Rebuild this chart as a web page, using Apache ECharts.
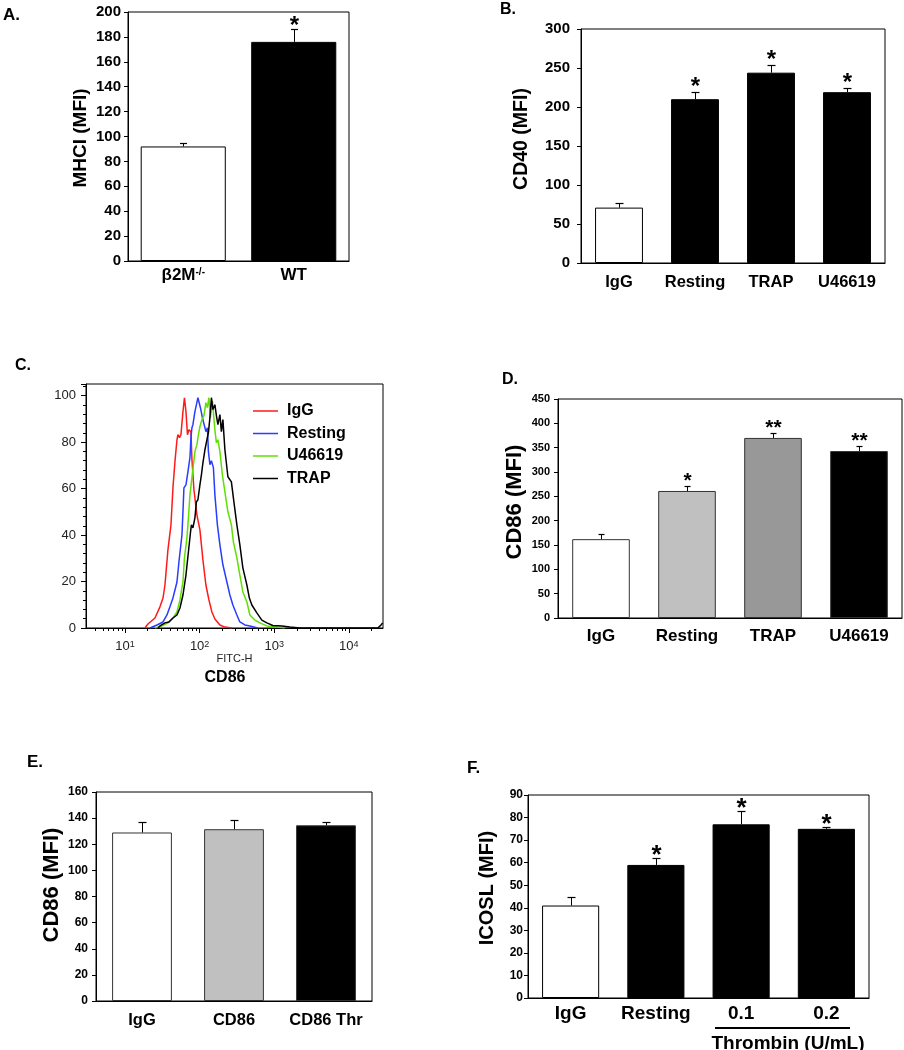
<!DOCTYPE html>
<html>
<head>
<meta charset="utf-8">
<script src="https://cdn.jsdelivr.net/npm/echarts@6/dist/echarts.min.js"></script>
<style>
  html, body { margin: 0; padding: 0; background: #fff; }
  #chart { width: 904px; height: 1050px; }
</style>
</head>
<body>
<div id="chart"></div>
<script>
var FONT = '"Liberation Sans", Arial, Helvetica, sans-serif';

// A. MHCI
var catA = ['β2M', 'WT'];
var supA = ['-/-', ''];
var valA = [92, 176];
var errA = [2.5, 10];
var starA = ['', '*'];
var colA = ['#ffffff', '#000000'];

// B. CD40
var catB = ['IgG', 'Resting', 'TRAP', 'U46619'];
var valB = [71, 210, 244, 219];
var errB = [6, 9, 10, 6];
var starB = ['', '*', '*', '*'];
var colB = ['#ffffff', '#000000', '#000000', '#000000'];

// C. CD86 histograms (FITC-H, % of max)
var histIgG = [[18.5,0],[20.3,1.7],[25.2,4.3],[29.4,9.1],[32.3,12.9],[34.3,18.5],[37.6,33.6],[41.3,44.4],[43.9,60.3],[46.7,71.6],[49.7,81],[51.2,83.2],[53.7,81.9],[56.2,83.2],[59.8,93.1],[62.6,99.1],[65.6,93.1],[68.7,83.2],[71.9,85.3],[76.5,84.5],[78.9,72.4],[83.9,59.5],[92,48.7],[100.9,42.2],[110.7,29.3],[121.4,18.5],[133.2,12.1],[146.1,6.9],[160.2,3.9],[187,1.3],[218.2,0.4],[270,0]];
var histResting = [[21.6,0],[26.8,1.3],[32.3,2.6],[36.5,5.6],[40,9.1],[43.9,12.9],[49.7,19.8],[52.8,28.4],[58,40.1],[59.8,50],[61.6,60.3],[65.6,61.6],[69.7,67.2],[74.2,73.3],[76.5,81.9],[78.9,86.2],[81.3,87.5],[86.5,93.1],[94.9,99.1],[102.5,94.8],[109,90.5],[114.2,90.9],[121.4,84.5],[127.2,86.2],[131.2,75.9],[137.4,70.3],[143.9,72],[153,69],[160.2,57.3],[173.1,44.4],[187,35.8],[205.1,27.2],[232,19.8],[254.4,14.2],[279.1,9.9],[315.7,5.6],[346.3,2.6],[404.2,1.3],[471.5,0.9],[603.5,0]];
var histU46619 = [[25.2,0],[31.3,0.9],[37.6,2.2],[43.9,4.3],[49.7,6.9],[54.5,12.1],[59.8,19.8],[62.6,30.2],[67.6,38.8],[70.8,47.4],[74.2,57.3],[78.9,64.7],[82.6,70.3],[86.5,75.9],[92,78.9],[96.4,83.2],[100.9,86.6],[107.4,89.7],[114.2,91.4],[121.4,97],[127.2,94.8],[133.2,99.1],[139.5,90.5],[148.4,97.8],[160.2,85.3],[167.9,79.7],[175.8,81],[187,75.9],[202,65.9],[218.2,58.6],[239.3,50],[266.6,44.4],[283.5,37.1],[315.7,30.2],[346.3,22.8],[379.8,15.5],[429.9,11.2],[471.5,5.6],[549.8,3.4],[641.7,2.2],[796,0.9],[1083,0.4],[1387,0]];
var histTRAP = [[27.7,0],[29.4,0.9],[34.3,2.2],[38.8,2.6],[43.9,4.3],[49.7,5.6],[54.5,8.6],[59.8,14.2],[65.6,22.8],[70.8,32.8],[75.3,40.9],[77.6,44.4],[81.3,43.1],[86.5,47.4],[90.6,54.3],[94.9,55.2],[100.9,61.6],[105.7,65.9],[110.7,71.1],[117.8,76.7],[125.2,81],[131.2,84.1],[137.4,90.5],[143.9,99.1],[150.7,94],[160.2,96.1],[167.9,91.4],[175.8,87.5],[187,91.8],[195.8,84.5],[205.1,89.7],[218.2,76.7],[239.3,65.1],[266.6,62.9],[283.5,56],[315.7,44.4],[346.3,35.8],[379.8,25.9],[429.9,18.5],[464.3,12.9],[501.3,9.9],[584.9,6.5],[682.4,3.4],[796,2.2],[957.8,1.1],[1264,0.9],[1618,0.4],[2201,0],[24400,0],[26500,1],[28400,2.2]];
var histNames = ['IgG', 'Resting', 'U46619', 'TRAP'];
var histColors = ['#ff1a1a', '#2a3cff', '#5ee000', '#000000'];

// D. CD86
var catD = ['IgG', 'Resting', 'TRAP', 'U46619'];
var valD = [162, 261, 370, 343];
var errD = [10, 10, 11, 10];
var starD = ['', '*', '**', '**'];
var colD = ['#ffffff', '#c0c0c0', '#989898', '#000000'];

// E. CD86
var catE = ['IgG', 'CD86', 'CD86 Thr'];
var valE = [129, 131.5, 134.5];
var errE = [8, 7, 2.5];
var colE = ['#ffffff', '#c0c0c0', '#000000'];

// F. ICOSL
var catF = ['IgG', 'Resting', '0.1', '0.2'];
var valF = [41, 59, 77, 75];
var errF = [4, 3, 6, 1];
var starF = ['', '*', '*', '*'];
var colF = ['#ffffff', '#000000', '#000000', '#000000'];

function bold(size) { return 'bold ' + size + 'px ' + FONT; }

var grids = [
  { left: 128, top: 12, width: 221, height: 249 },
  { left: 581, top: 29, width: 304, height: 234 },
  { left: 86, top: 384, width: 297, height: 244 },
  { left: 558, top: 399, width: 344, height: 219 },
  { left: 96, top: 792, width: 276, height: 209 },
  { left: 528, top: 795, width: 341, height: 203 }
];
grids.forEach(function(g) {
  g.show = true; g.borderColor = '#000'; g.borderWidth = 1; g.backgroundColor = '#fff';
});

function catAxis(gi, cats, size, margin, fmt) {
  return {
    type: 'category', gridIndex: gi, data: cats,
    axisLine: { lineStyle: { color: '#000', width: 1 } },
    axisTick: { show: false },
    axisLabel: {
      color: '#000', fontFamily: FONT, fontWeight: 'bold', fontSize: size,
      margin: margin, interval: 0, formatter: fmt
    }
  };
}

function valAxis(gi, max, step, size, margin) {
  return {
    type: 'value', gridIndex: gi, min: 0, max: max, interval: step,
    axisLine: { show: true, lineStyle: { color: '#000', width: 1 } },
    axisTick: { show: true, inside: false, length: 4, lineStyle: { color: '#000' } },
    splitLine: { show: false },
    axisLabel: { color: '#000', fontFamily: FONT, fontWeight: 'bold', fontSize: size, margin: margin }
  };
}

function barSeries(gi, vals, cols, width, border) {
  return {
    type: 'bar', xAxisIndex: gi, yAxisIndex: gi, barWidth: width, silent: true,
    data: vals.map(function(v, i) {
      return { value: v, itemStyle: { color: cols[i], borderColor: border, borderWidth: 1 } };
    })
  };
}

function errSeries(gi, vals, errs, stars, cap, starSize, starGap) {
  return {
    type: 'custom', xAxisIndex: gi, yAxisIndex: gi, z: 5, silent: true,
    data: vals.map(function(v, i) { return [i, v, v + errs[i]]; }),
    renderItem: function(params, api) {
      var base = api.coord([api.value(0), api.value(1)]);
      var top = api.coord([api.value(0), api.value(2)]);
      var x = Math.round(base[0]) + 0.5;
      var yt = Math.round(top[1]) + 0.5;
      var kids = [
        { type: 'line', shape: { x1: x, y1: base[1], x2: x, y2: yt }, style: { stroke: '#000', lineWidth: 1 } },
        { type: 'line', shape: { x1: x - cap, y1: yt, x2: x + cap, y2: yt }, style: { stroke: '#000', lineWidth: 1.2 } }
      ];
      var s = stars ? stars[params.dataIndex] : '';
      if (s) {
        kids.push({
          type: 'text', x: x, y: yt - starGap + 0.21 * starSize,
          style: { text: s, font: bold(starSize), fill: '#000', textAlign: 'center', textVerticalAlign: 'middle' }
        });
      }
      return { type: 'group', children: kids };
    }
  };
}

// log minor ticks for panel C
var minorTicks = [];
[1, 10, 100, 1000, 10000].forEach(function(d) {
  for (var k = 2; k <= 9; k++) {
    var v = k * d;
    if (v > 3 && v < 28700) minorTicks.push([v, 0]);
  }
});

var xAxes = [
  catAxis(0, catA, 17, 6, function(v, i) { return '{b|' + v + '}' + (supA[i] ? '{s|' + supA[i] + '}' : ''); }),
  catAxis(1, catB, 16.5, 11),
  {
    type: 'log', gridIndex: 2, logBase: 10, min: 3, max: 28700,
    name: 'FITC-H', nameLocation: 'middle', nameGap: 25,
    nameTextStyle: { fontFamily: FONT, fontSize: 11, color: '#222' },
    axisLine: { lineStyle: { color: '#000', width: 1 } },
    axisTick: { show: true, length: 5, lineStyle: { color: '#000' } },
    splitLine: { show: false },
    axisLabel: {
      showMinLabel: false, showMaxLabel: false, margin: 12,
      formatter: function(v) { return '{n|10}{s|' + Math.round(Math.log10(v)) + '}'; },
      rich: {
        n: { fontFamily: FONT, fontSize: 13, color: '#222' },
        s: { fontFamily: FONT, fontSize: 9, color: '#222', verticalAlign: 'top' }
      }
    }
  },
  catAxis(3, catD, 17, 10),
  catAxis(4, catE, 16.5, 11),
  catAxis(5, catF, 19, 6)
];
xAxes[0].axisLabel.rich = {
  b: { fontFamily: FONT, fontWeight: 'bold', fontSize: 17, color: '#000' },
  s: { fontFamily: FONT, fontWeight: 'bold', fontSize: 10, color: '#000', verticalAlign: 'top' }
};

var yC = valAxis(2, 105, 20, 13, 10);
yC.axisLabel.fontWeight = 'normal';
yC.axisLabel.color = '#222';
yC.axisLabel.showMaxLabel = false;
yC.axisTick.length = 5;
yC.minorTick = { show: true, splitNumber: 5, length: 3, lineStyle: { color: '#000' } };

var yAxes = [
  valAxis(0, 200, 20, 15, 7),
  valAxis(1, 300, 50, 15, 11),
  yC,
  valAxis(3, 450, 50, 11, 8),
  valAxis(4, 160, 20, 12, 8),
  valAxis(5, 90, 10, 12, 5)
];

var series = [
  barSeries(0, valA, colA, '77%', '#000'),
  errSeries(0, valA, errA, starA, 3.5, 24, 8),
  barSeries(1, valB, colB, '63%', '#000'),
  errSeries(1, valB, errB, starB, 4, 24, 10),
  barSeries(3, valD, colD, '67%', '#333'),
  errSeries(3, valD, errD, starD, 3, 21, 10),
  barSeries(4, valE, colE, '65%', '#333'),
  errSeries(4, valE, errE, null, 4, 16, 8),
  barSeries(5, valF, colF, '67%', '#000'),
  errSeries(5, valF, errF, starF, 4, 26, 8),
  {
    type: 'custom', xAxisIndex: 2, yAxisIndex: 2, silent: true,
    data: minorTicks,
    renderItem: function(params, api) {
      var p = api.coord([api.value(0), 0]);
      var x = Math.round(p[0]) + 0.5;
      return { type: 'line', shape: { x1: x, y1: p[1], x2: x, y2: p[1] + 3 }, style: { stroke: '#000', lineWidth: 1 } };
    }
  }
];
[histIgG, histResting, histU46619, histTRAP].forEach(function(d, i) {
  series.push({
    name: histNames[i], type: 'line', xAxisIndex: 2, yAxisIndex: 2,
    data: d, showSymbol: false, symbol: 'none', smooth: false, silent: true,
    lineStyle: { color: histColors[i], width: 1.5 }, itemStyle: { color: histColors[i] }
  });
});

function label(text, x, y, size) {
  return { type: 'text', x: x, y: y, style: { text: text, font: bold(size), fill: '#000', textAlign: 'left', textVerticalAlign: 'middle' } };
}
function yName(text, x, y, size) {
  return { type: 'text', x: x, y: y, rotation: Math.PI / 2, style: { text: text, font: bold(size), fill: '#000', textAlign: 'center', textVerticalAlign: 'middle' } };
}

var chart = echarts.init(document.getElementById('chart'), null, { renderer: 'canvas' });
chart.setOption({
  animation: false,
  backgroundColor: '#fff',
  grid: grids,
  xAxis: xAxes,
  yAxis: yAxes,
  series: series,
  legend: {
    data: histNames, orient: 'vertical', left: 253, top: 403,
    icon: 'rect', itemWidth: 25, itemHeight: 1.5, itemGap: 6.5, padding: 0, selectedMode: false,
    textStyle: { fontFamily: FONT, fontSize: 16, fontWeight: 'bold', color: '#000', padding: [0, 0, 0, 4] }
  },
  graphic: [
    label('A.', 3, 15, 17),
    label('B.', 500, 10, 16),
    label('C.', 15, 366, 16),
    label('D.', 502, 380, 16),
    label('E.', 27, 762, 17),
    label('F.', 467, 768, 17),
    yName('MHCI (MFI)', 81, 138, 19),
    yName('CD40 (MFI)', 522, 139, 19.5),
    yName('CD86 (MFI)', 515, 502, 22),
    yName('CD86 (MFI)', 52, 885, 22),
    yName('ICOSL (MFI)', 487, 888, 20),
    { type: 'text', x: 225, y: 678, style: { text: 'CD86', font: bold(16), fill: '#000', textAlign: 'center', textVerticalAlign: 'middle' } },
    { type: 'line', shape: { x1: 715, y1: 1028, x2: 850, y2: 1028 }, style: { stroke: '#000', lineWidth: 2 } },
    { type: 'text', x: 788, y: 1044, style: { text: 'Thrombin (U/mL)', font: bold(19), fill: '#000', textAlign: 'center', textVerticalAlign: 'middle' } }
  ]
});
window.addEventListener('resize', function() { chart.resize(); });
</script>
</body>
</html>
